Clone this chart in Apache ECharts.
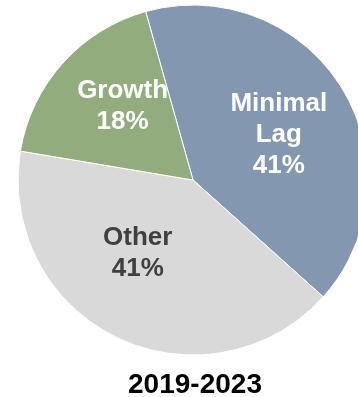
<!DOCTYPE html>
<html><head><meta charset="utf-8">
<script src="https://cdn.jsdelivr.net/npm/echarts@6/dist/echarts.min.js"></script>
<style>html,body{margin:0;padding:0;background:#fff}#c{width:358px;height:397px}</style>
</head><body><div id="c"></div>
<script>
const categories = ['Minimal Lag', 'Other', 'Growth'];
const labelNames = ['Minimal\nLag', 'Other', 'Growth'];
const values = [41, 41, 18];
const title = '2019-2023';

const colors = {'Minimal Lag': '#8497B0', 'Other': '#D9D9D9', 'Growth': '#93AC7D'};
const textColors = {'Minimal Lag': '#ffffff', 'Other': '#404040', 'Growth': '#ffffff'};
const offsets = {'Minimal Lag': [9, 3], 'Other': [-16, -8], 'Growth': [-3, -13]};

const chart = echarts.init(document.getElementById('c'));
chart.setOption({
  animation: false,
  title: {
    text: title, left: 190, top: 366, textAlign: 'center',
    textStyle: {fontFamily: 'Liberation Sans, Arial', fontWeight: 'bold', fontSize: 28, color: '#000'}
  },
  series: [{
    type: 'pie',
    center: [193, 180],
    radius: [0, 175],
    startAngle: 105.7,
    clockwise: true,
    itemStyle: {borderColor: '#fff', borderWidth: 1},
    label: {
      position: 'inside',
      fontFamily: 'Liberation Sans, Arial', fontWeight: 'bold', fontSize: 26, lineHeight: 31,
      formatter: p => labelNames[p.dataIndex] + '\n' + p.value + '%'
    },
    labelLine: {show: false},
    data: categories.map((c, i) => ({
      name: c, value: values[i],
      itemStyle: {color: colors[c]},
      label: {color: textColors[c], offset: offsets[c]}
    }))
  }]
});
</script></body></html>
